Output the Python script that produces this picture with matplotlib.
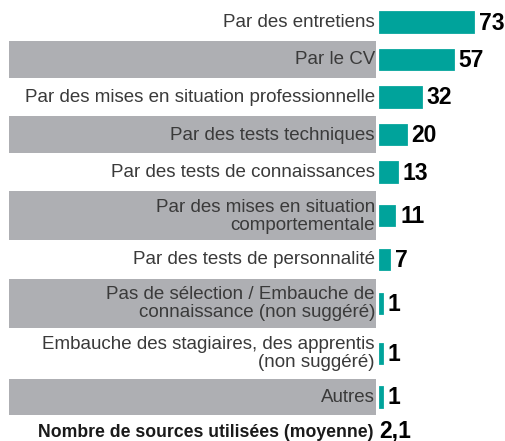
import matplotlib
matplotlib.use("Agg")
import matplotlib.pyplot as plt

# Data
labels = [
    "Par des entretiens",
    "Par le CV",
    "Par des mises en situation professionnelle",
    "Par des tests techniques",
    "Par des tests de connaissances",
    "Par des mises en situation\ncomportementale",
    "Par des tests de personnalité",
    "Pas de sélection / Embauche de\nconnaissance (non suggéré)",
    "Embauche des stagiaires, des apprentis\n(non suggéré)",
    "Autres",
]
values = [73, 57, 32, 20, 13, 11, 7, 1, 1, 1]
footer_label = "Nombre de sources utilisées (moyenne)"
footer_value = "2,1"

TEAL = "#00A39B"
GRAY = "#AEAFB3"
TEXT = "#3A3A3A"

W, H = 506, 441
x0 = 379            # pixel where bars start
ppu = 93 / 73       # pixels per unit
band_left = 9
band_right = 376

plt.rcParams["font.family"] = ["Liberation Sans", "DejaVu Sans"]

fig = plt.figure(figsize=(W / 100, H / 100), dpi=100)
ax = fig.add_axes([0, 0, 1, 1])
ax.set_xlim(-x0 / ppu, (W - x0) / ppu)
ax.set_ylim(H, 0)
ax.axis("off")

# row heights depend on the number of lines in the label
heights = [50 if "\n" in lab else 37.5 for lab in labels]
top = 3.25
centers = []
for h in heights:
    centers.append(top + h / 2)
    top += h

for i, (lab, val, yc, h) in enumerate(zip(labels, values, centers, heights)):
    if i % 2 == 1:
        ax.barh(yc, (band_right - band_left) / ppu, left=-(x0 - band_left) / ppu,
                height=h - 1, color=GRAY, edgecolor="none")
    ax.barh(yc, val, left=1.4 / ppu, height=19.2, color=TEAL, edgecolor=TEAL,
            linewidth=2)
    ax.text(-4 / ppu, yc + 0.5, lab, ha="right", va="center", fontsize=13.5,
            color=TEXT, linespacing=1.08)
    ax.text(val + 7 / ppu, yc + 1, str(val), ha="left", va="center",
            fontsize=16.5, fontweight="bold", color="black")

fy = 437
ax.text(-5 / ppu, fy, footer_label, ha="right", va="baseline", fontsize=12.7,
        fontweight="bold", color="#1a1a1a")
ax.text(0, fy + 0.5, footer_value, ha="left", va="baseline", fontsize=16.5,
        fontweight="bold", color="black")

fig.savefig("out.png", dpi=100)
